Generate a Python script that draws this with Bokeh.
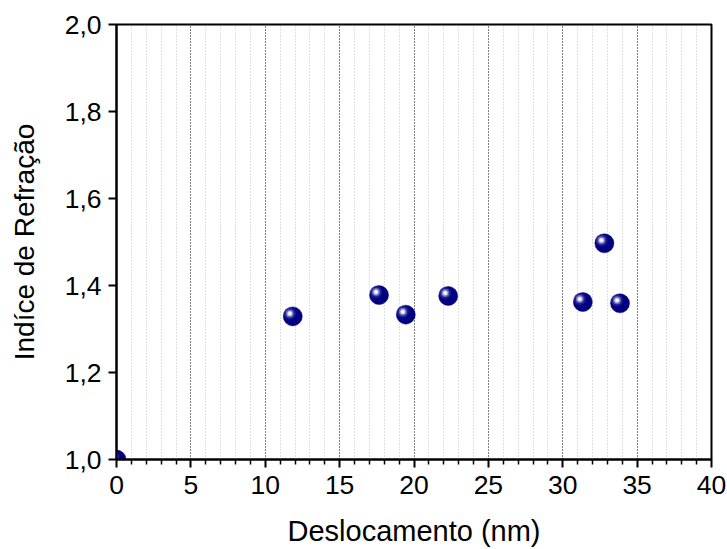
from bokeh.plotting import figure
from bokeh.models import FixedTicker, CustomJSTickFormatter, ColumnDataSource, Range1d
from bokeh.transform import dodge
from bokeh.embed import file_html
from bokeh.resources import INLINE

# data
deslocamento = [0.0, 11.85, 17.65, 19.45, 22.3, 31.35, 32.8, 33.85]
indice = [1.000, 1.329, 1.378, 1.333, 1.376, 1.362, 1.497, 1.359]
x_ticks = [0, 5, 10, 15, 20, 25, 30, 35, 40]
y_ticks = [1.0, 1.2, 1.4, 1.6, 1.8, 2.0]
x_title = "Deslocamento (nm)"
y_title = "Indíce de Refração"

FONT = "Liberation Sans"

p = figure(width=727, height=549, output_backend="svg", toolbar_location=None,
           x_range=Range1d(0, 40), y_range=Range1d(1.0, 2.0),
           min_border_left=116, min_border_right=16, min_border_top=24, min_border_bottom=89)
p.background_fill_color = "white"
p.border_fill_color = "white"
p.outline_line_color = "black"
p.outline_line_width = 2

# axes
p.xaxis.ticker = FixedTicker(ticks=x_ticks, minor_ticks=[v for v in range(0, 41) if v % 5 != 0])
p.yaxis.ticker = FixedTicker(ticks=y_ticks, minor_ticks=[])
p.yaxis.formatter = CustomJSTickFormatter(code="return tick.toFixed(1).replace('.', ',');")
for ax in (p.xaxis[0], p.yaxis[0]):
    ax.axis_line_width = 2
    ax.axis_line_color = "black"
    ax.major_tick_line_width = 2
    ax.major_tick_line_color = "black"
    ax.minor_tick_line_width = 1.5
    ax.minor_tick_line_color = "black"
    ax.major_tick_in = 0
    ax.minor_tick_in = 0
    ax.major_label_text_font = FONT
    ax.major_label_text_font_size = "26.5px"
    ax.major_label_text_color = "black"
    ax.axis_label_text_font = FONT
    ax.axis_label_text_font_style = "normal"
    ax.axis_label_text_color = "black"
p.xaxis.axis_label_text_font_size = "29px"
p.yaxis.axis_label_text_font_size = "28px"
p.xaxis.major_tick_out = 8
p.xaxis.minor_tick_out = 5
p.yaxis.major_tick_out = 8
p.yaxis.minor_tick_out = 0
p.xaxis.major_label_standoff = 8
p.yaxis.major_label_standoff = 7
p.xaxis.axis_label = x_title
p.yaxis.axis_label = y_title
p.xaxis.axis_label_standoff = 18
p.yaxis.axis_label_standoff = 22

# grid
p.ygrid.grid_line_color = None
p.xgrid.grid_line_color = "black"
p.xgrid.grid_line_width = 1
p.xgrid.grid_line_dash = "1 2"
p.xgrid.minor_grid_line_color = "#c0c0c0"
p.xgrid.minor_grid_line_width = 1
p.xgrid.minor_grid_line_dash = "1 2"

src = ColumnDataSource(dict(x=deslocamento, y=indice))

# sphere-like markers: base + layered highlight
p.scatter("x", "y", source=src, size=19, fill_color="#000080", line_color="#000070", line_width=0.5)
dx = -3 * 40 / 595
dy = 3 * 1.0 / 436
hx = dodge("x", dx, range=p.x_range)
hy = dodge("y", dy, range=p.y_range)
p.scatter(hx, hy, source=src, size=12, fill_color="#3030a0", fill_alpha=0.6, line_color=None)
p.scatter(hx, hy, source=src, size=8, fill_color="#8080c8", fill_alpha=0.8, line_color=None)
p.scatter(hx, hy, source=src, size=5, fill_color="#d8d8f0", line_color=None)
p.scatter(hx, hy, source=src, size=2.5, fill_color="white", line_color=None)

open("out.html", "w").write(file_html(p, INLINE))
